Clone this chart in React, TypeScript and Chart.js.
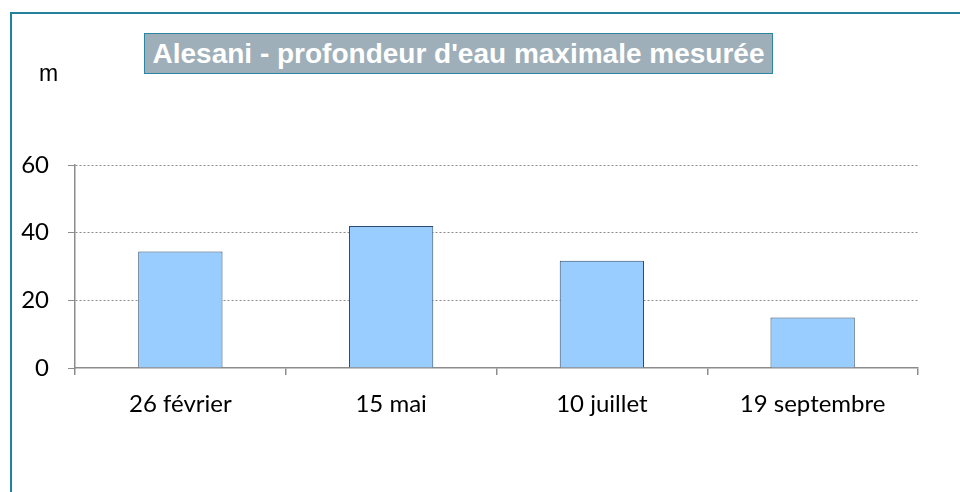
import React, { useEffect, useRef } from "react";
import { Chart, registerables } from "chart.js";

Chart.register(...registerables);

const categories = ["26 février", "15 mai", "10 juillet", "19 septembre"];
const depths = [34.4, 42, 31.7, 14.9];
const yMin = 0;
const yMax = 60;
const yStep = 20;
const chartTitle = "Alesani - profondeur d'eau maximale mesurée";
const unitLabel = "m";

const AXIS = "#8c8c8c";

export default function App() {
  const ref = useRef<HTMLCanvasElement | null>(null);

  useEffect(() => {
    if (!ref.current) return;
    const chart = new Chart(ref.current, {
      type: "bar",
      data: {
        labels: categories,
        datasets: [
          {
            data: depths,
            backgroundColor: "#99CCFF",
            borderColor: "#2E4A68",
            borderWidth: 1,
            barPercentage: 0.4,
            categoryPercentage: 1,
          },
        ],
      },
      options: {
        responsive: false,
        animation: false,
        devicePixelRatio: 1,
        layout: { padding: { left: 0, top: 165, right: 42, bottom: 0 } },
        plugins: { legend: { display: false }, tooltip: { enabled: false }, title: { display: false } },
        scales: {
          x: {
            offset: true,
            grid: {
              offset: true,
              drawOnChartArea: false,
              drawTicks: true,
              tickLength: 7,
              color: AXIS,
              tickColor: AXIS,
              lineWidth: 1.5,
            },
            border: { display: true, color: AXIS, width: 1.5 },
            ticks: {
              color: "#000",
              padding: 15,
              font: { family: "Lato, 'Noto Sans', sans-serif", size: 24 },
            },
            afterFit: (s: any) => {
              s.height = 124;
            },
          },
          y: {
            min: yMin,
            max: yMax,
            ticks: {
              stepSize: yStep,
              color: "#000",
              padding: 19,
              font: { family: "Lato, 'Noto Sans', sans-serif", size: 24 },
            },
            grid: {
              drawTicks: true,
              tickLength: 7,
              color: (c: any) => (c.tick && c.tick.value === 0 ? "rgba(0,0,0,0)" : AXIS),
              tickColor: AXIS,
              tickBorderDash: [],
              lineWidth: 1,
            },
            border: { display: true, color: AXIS, width: 1.5, dash: [2, 2] },
            afterFit: (s: any) => {
              s.width = 75;
            },
          },
        },
      },
    });
    return () => chart.destroy();
  }, []);

  return (
    <div style={{ position: "fixed", left: 0, top: 0, width: 960, height: 492, background: "#fff", overflow: "hidden" }}>
      <div
        style={{
          position: "absolute",
          left: 10,
          top: 12,
          width: 960,
          height: 492,
          borderTop: "2px solid #23809F",
          borderLeft: "2px solid #23809F",
          boxSizing: "border-box",
        }}
      />
      <canvas ref={ref} width={960} height={492} style={{ position: "absolute", left: 0, top: 0, width: 960, height: 492 }} />
      <div
        style={{
          position: "absolute",
          left: 144,
          top: 33,
          width: 629,
          height: 41,
          boxSizing: "border-box",
          background: "#9EAFB9",
          border: "1px solid #2C86A3",
          color: "#fff",
          fontFamily: "'Liberation Sans', Arial, sans-serif",
          fontWeight: "bold",
          fontSize: 28,
          lineHeight: "39px",
          textAlign: "center",
          whiteSpace: "nowrap",
        }}
      >
        {chartTitle}
      </div>
      <div
        style={{
          position: "absolute",
          left: 39,
          top: 58,
          fontFamily: "'Liberation Sans', Arial, sans-serif",
          fontSize: 23,
          lineHeight: "30px",
          color: "#000",
        }}
      >
        {unitLabel}
      </div>
    </div>
  );
}
